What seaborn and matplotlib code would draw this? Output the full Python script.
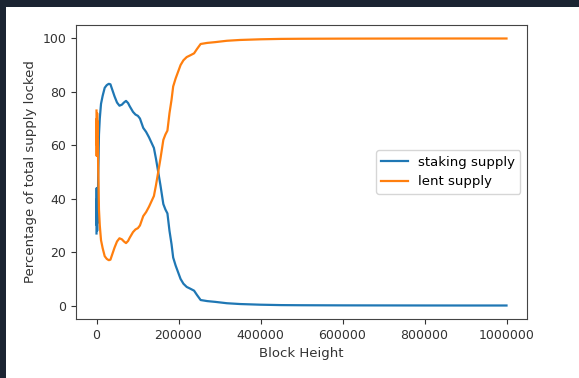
import matplotlib
matplotlib.use("Agg")
import matplotlib.pyplot as plt
from matplotlib.patches import Rectangle
from matplotlib.ticker import ScalarFormatter
import seaborn as sns
import pandas as pd

block_height = [0, 400, 800, 1200, 1600, 2000, 2500, 3000, 3500, 4000, 5000, 6000,
                8000, 11000, 15000, 20000, 25000, 30000, 34000, 38000, 44000, 50000,
                56000, 62000, 67000, 72000, 77000, 81000, 89000, 95000, 101000, 106000,
                114000, 121000, 128000, 134000, 140000, 145000, 150000, 156000, 163000,
                168000, 173000, 178000, 183000, 187000, 193000, 199000, 205000, 212000,
                220000, 228000, 238000, 245000, 254000, 270000, 290000, 318000, 350000,
                400000, 450000, 500000, 600000, 700000, 800000, 900000, 1000000]

staking_supply = [27, 44, 30, 40, 28, 36, 31, 43, 38, 48, 55, 64,
                  70, 75.5, 78.5, 81.5, 82.5, 83, 82.8, 81, 78.3, 76,
                  74.8, 75.2, 76, 76.6, 75.8, 74.6, 72.5, 71.5, 71, 70,
                  66.5, 65, 63, 61, 59, 55, 50.5, 45, 38,
                  36, 34.5, 28, 23, 18, 15, 12.5, 10, 8.2,
                  7, 6.4, 5.6, 4, 2.1, 1.7, 1.4, 0.9, 0.6,
                  0.35, 0.2, 0.15, 0.1, 0.08, 0.06, 0.05, 0.05]

lent_supply = [73, 56, 70, 60, 72, 64, 69, 57, 62, 52, 45, 36,
               30, 24.5, 21.5, 18.5, 17.5, 17, 17.2, 19, 21.7, 24,
               25.2, 24.8, 24, 23.4, 24.2, 25.4, 27.5, 28.5, 29, 30,
               33.5, 35, 37, 39, 41, 45, 49.5, 55, 62,
               64, 65.5, 72, 77, 82, 85, 87.5, 90, 91.8,
               93, 93.6, 94.4, 96, 97.9, 98.3, 98.6, 99.1, 99.4,
               99.65, 99.8, 99.85, 99.9, 99.92, 99.94, 99.95, 99.95]

series_labels = ["staking supply", "lent supply"]

W, H = 579, 378
fig = plt.figure(figsize=(W / 100, H / 100), dpi=100)
fig.patch.set_facecolor("#1b2432")
fig.patches.append(Rectangle((6 / W, 0), 1 - 6 / W, (H - 7) / H,
                             transform=fig.transFigure, facecolor="white",
                             edgecolor="none", zorder=-5))

ax = fig.add_axes([76 / W, (H - 319) / H, 451 / W, 294 / H])
ax.set_zorder(2)

df_s = pd.DataFrame({"x": block_height, "y": staking_supply})
df_l = pd.DataFrame({"x": block_height, "y": lent_supply})
sns.lineplot(data=df_s, x="x", y="y", ax=ax, color="#1f77b4", linewidth=1.6,
             label=series_labels[0], estimator=None, sort=False)
sns.lineplot(data=df_l, x="x", y="y", ax=ax, color="#ff7f0e", linewidth=1.6,
             label=series_labels[1], estimator=None, sort=False)

ax.set_xticks([0, 200000, 400000, 600000, 800000, 1000000])
ax.set_yticks([0, 20, 40, 60, 80, 100])
fmt = ScalarFormatter(useOffset=False)
fmt.set_scientific(False)
ax.xaxis.set_major_formatter(fmt)
ax.set_xlim(-50000, 1050000)
ax.set_ylim(-5, 105)

ax.tick_params(labelsize=9, colors="#333333", labelcolor="#333333")
for sp in ax.spines.values():
    sp.set_color("#444444")
ax.set_xlabel("Block Height", fontsize=9.5, color="#333333")
ax.set_ylabel("Percentage of total supply locked", fontsize=9.5, color="#333333")
ax.legend(loc="center right", fontsize=9.5)

fig.savefig("out.png", dpi=100, facecolor=fig.get_facecolor())
